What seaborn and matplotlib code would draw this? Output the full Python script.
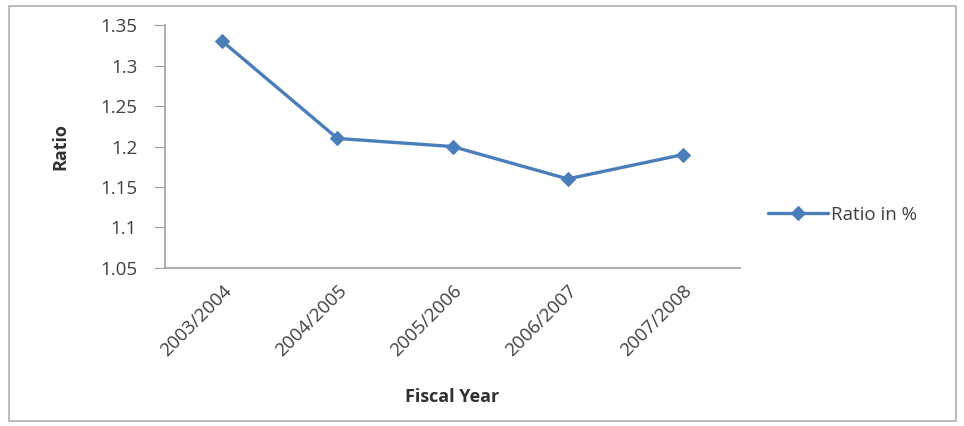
import matplotlib
matplotlib.use("Agg")
import matplotlib.pyplot as plt
import seaborn as sns
import pandas as pd
from matplotlib.patches import Rectangle

# données
years = ["2003/2004", "2004/2005", "2005/2006", "2006/2007", "2007/2008"]
ratio = [1.33, 1.21, 1.20, 1.16, 1.19]
y_ticks = [1.05, 1.1, 1.15, 1.2, 1.25, 1.3, 1.35]
y_tick_labels = ["1.05", "1.1", "1.15", "1.2", "1.25", "1.3", "1.35"]

df = pd.DataFrame({"Fiscal Year": years, "Ratio in %": ratio})

sns.set_style("white")
plt.rcParams['font.family'] = ['Open Sans', 'DejaVu Sans']

fig = plt.figure(figsize=(9.64, 4.26), dpi=100)
ax = fig.add_axes([0.171, 0.371, 0.597, 0.570])

blue = "#4a7ebb"
sns.lineplot(data=df, x="Fiscal Year", y="Ratio in %", ax=ax, color=blue,
             linewidth=2.4, marker="D", markersize=7, markeredgecolor=blue,
             label="Ratio in %", sort=False)

ax.set_xlim(-0.5, len(years) - 0.5)
ax.set_ylim(1.05, 1.35)
ax.set_yticks(y_ticks)
ax.set_yticklabels(y_tick_labels)
ax.set_xticks(range(len(years)))
ax.set_xticklabels(years, rotation=45, ha="right", rotation_mode="anchor")
ax.tick_params(axis="both", labelsize=13.5, colors="#404040")
ax.tick_params(axis="y", length=8, width=0.8, color="#a0a0a0", direction="out", left=True, pad=12)
ax.tick_params(axis="x", length=0, pad=10)

for side in ["top", "right"]:
    ax.spines[side].set_visible(False)
for side in ["left", "bottom"]:
    ax.spines[side].set_color("#a0a0a0")
    ax.spines[side].set_linewidth(1.2)

ax.set_ylabel("Ratio", fontsize=13, fontweight="bold", color="#303030", labelpad=22)
ax.set_xlabel("Fiscal Year", fontsize=13, fontweight="bold", color="#303030", labelpad=20)

leg = ax.legend(loc="center left", bbox_to_anchor=(1.035, 0.22), frameon=False,
                fontsize=13.5, handlelength=3.2, handletextpad=0.15, borderaxespad=0.0)
for t in leg.get_texts():
    t.set_color("#404040")

# cadre de la figure
fig.patches.append(Rectangle((0.009, 0.012), 0.983, 0.975, transform=fig.transFigure,
                             fill=False, edgecolor="#b0b0b0", linewidth=1.2))

fig.savefig("out.png", dpi=100)
